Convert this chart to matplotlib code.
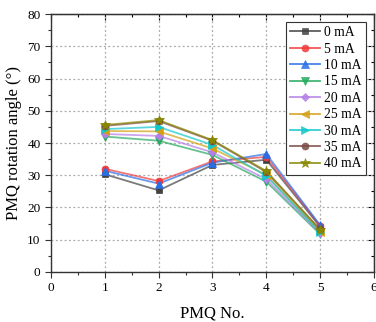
import matplotlib
matplotlib.use("Agg")
import matplotlib.pyplot as plt
from matplotlib.ticker import MultipleLocator

plt.rcParams['font.family'] = ['Liberation Serif', 'DejaVu Serif']

pmq = [1, 2, 3, 4, 5]
labels = ['0 mA', '5 mA', '10 mA', '15 mA', '20 mA', '25 mA', '30 mA', '35 mA', '40 mA']
s0 = [30.3, 25.3, 33.2, 34.8, 14.0]
s5 = [32.0, 28.2, 34.3, 35.7, 14.3]
s10 = [31.4, 27.4, 33.9, 36.6, 14.5]
s15 = [42.0, 40.7, 36.3, 28.0, 11.7]
s20 = [42.8, 42.2, 37.1, 28.8, 12.0]
s25 = [43.7, 43.6, 38.3, 30.1, 12.5]
s30 = [44.3, 45.0, 39.4, 29.8, 12.3]
s35 = [45.3, 46.8, 40.7, 31.0, 13.2]
s40 = [45.6, 47.1, 40.9, 31.3, 13.0]
series = [s0, s5, s10, s15, s20, s25, s30, s35, s40]

colors = ['#424242', '#f03b3b', '#2a6ee6', '#25a95e', '#b47fe6',
          '#d4a012', '#12c8cc', '#7b4b44', '#878700']
markers = ['s', 'o', '^', 'v', 'D', '<', '>', 'o', '*']
msizes = [4.8, 5, 5.8, 5.8, 4.5, 5.8, 5.8, 5, 7.5]

fig = plt.figure(figsize=(3.76, 3.22), dpi=100)
ax = fig.add_axes([0.1356, 0.1553, 0.8591, 0.8012])

for vals, lab, c, m, ms in zip(series, labels, colors, markers, msizes):
    ax.plot(pmq, vals, color=c, alpha=0.7, lw=1.3, zorder=2)
    ax.plot(pmq, vals, linestyle='none', marker=m, ms=ms, color=c,
            markeredgewidth=0.5, zorder=3)
    ax.plot([], [], color=c, lw=1.3, marker=m, ms=ms, label=lab,
            markeredgewidth=0.5)

ax.set_xlim(0, 6)
ax.set_ylim(0, 80)
ax.xaxis.set_major_locator(MultipleLocator(1))
ax.xaxis.set_minor_locator(MultipleLocator(0.5))
ax.yaxis.set_major_locator(MultipleLocator(10))
ax.yaxis.set_minor_locator(MultipleLocator(5))
ax.grid(True, which='major', linestyle=(0, (1.5, 2)), color='#a8a8a8', lw=0.9)
ax.set_axisbelow(True)

ax.tick_params(which='both', direction='out', top=False, right=False,
               labelsize=9.5, width=0.8, color='#333333')
ax.tick_params(which='major', length=4)
ax.tick_params(which='minor', length=2)
ax2 = ax.secondary_xaxis('top')
ax2.xaxis.set_major_locator(MultipleLocator(1))
ax2.xaxis.set_minor_locator(MultipleLocator(0.5))
ax2.tick_params(which='both', direction='in', labeltop=False, width=0.8)
ax2.tick_params(which='major', length=4)
ax2.tick_params(which='minor', length=2)
ax3 = ax.secondary_yaxis('right')
ax3.yaxis.set_major_locator(MultipleLocator(10))
ax3.yaxis.set_minor_locator(MultipleLocator(5))
ax3.tick_params(which='both', direction='in', labelright=False, width=0.8)
ax3.tick_params(which='major', length=4)
ax3.tick_params(which='minor', length=2)
for sp in ax.spines.values():
    sp.set_color('#333333')
    sp.set_linewidth(1.0)

ax.set_xlabel('PMQ No.', fontsize=12, labelpad=8)
ax.set_ylabel('PMQ rotation angle (°)', fontsize=12, labelpad=4)

leg = ax.legend(loc='upper right', fontsize=9.8, frameon=True, fancybox=False,
                edgecolor='#333333', framealpha=1, handlelength=2.2,
                handletextpad=0.3, labelspacing=0.25, borderpad=0.3,
                borderaxespad=0.6)
leg.get_frame().set_linewidth(0.8)
for line in leg.get_lines():
    line.set_alpha(0.85)

fig.savefig('out.png', dpi=100)
